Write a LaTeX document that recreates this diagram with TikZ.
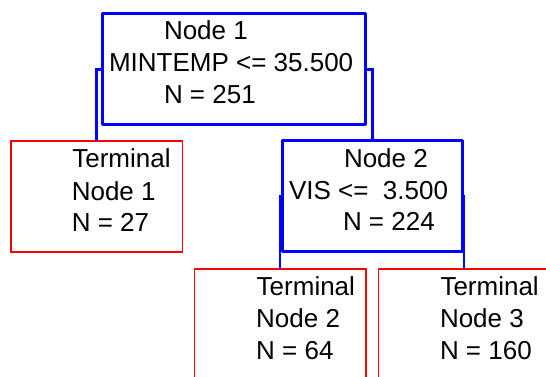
\documentclass[tikz,border=0pt]{standalone}
\usepackage{fontspec}
\setmainfont{Liberation Sans}
\definecolor{treeblue}{RGB}{0,0,255}
\definecolor{treered}{RGB}{255,0,0}
\begin{document}
\begin{tikzpicture}[x=1pt,y=-1pt,
  splitbox/.style={draw=treeblue, line width=3.3pt, line join=round, fill=white, outer sep=0pt, inner sep=0pt},
  termbox/.style={draw=treered, line width=1.6pt, fill=white, outer sep=0pt, inner sep=0pt},
  conn/.style={draw=treeblue, line width=2.8pt},
  lbl/.style={anchor=base west, inner sep=0pt, outer sep=0pt, font=\fontsize{26}{30}\selectfont}]
\useasboundingbox (0,0) rectangle (546,376);
\clip (0,0) rectangle (546,376);
% boxes
\node[splitbox, minimum width=263pt, minimum height=111.3pt] (n1) at (234.1,69.1) {};
\node[termbox, minimum width=171.7pt, minimum height=111pt] (t1) at (96.6,196.7) {};
\node[splitbox, minimum width=180pt, minimum height=110.5pt] (n2) at (372.3,196) {};
\node[termbox, minimum width=171.4pt, minimum height=111pt] (t2) at (280,324.2) {};
\node[termbox, minimum width=171.4pt, minimum height=111pt] (t3) at (464,324.2) {};
% connectors
\draw[conn] (n1.west) -| (t1.north);
\draw[conn] (n1.east) -| (n2.north);
\draw[conn] (n2.west) -| (t2.north);
\draw[conn] (n2.east) -| (t3.north);
% texts
\node[lbl] (n1a) at (164,39.3) {Node 1};
\node[lbl] (n1b) at (109,71.7) {MINTEMP <= 35.500};
\node[lbl] (n1c) at (164,103.3) {N = 251};
\node[lbl] (t1a) at (72.3,167.3) {Terminal};
\node[lbl] (t1b) at (71.8,200) {Node 1};
\node[lbl] (t1c) at (71.8,231.7) {N = 27};
\node[lbl] (n2a) at (344,167.3) {Node 2};
\node[lbl] (n2b) at (289,199) {VIS <=\ \ 3.500};
\node[lbl] (n2c) at (343,230.7) {N = 224};
\node[lbl] (t2a) at (256.7,295) {Terminal};
\node[lbl] (t2b) at (256.2,327.3) {Node 2};
\node[lbl] (t2c) at (256.2,359) {N = 64};
\node[lbl] (t3a) at (440.5,295) {Terminal};
\node[lbl] (t3b) at (440,327.3) {Node 3};
\node[lbl] (t3c) at (440,359) {N = 160};
\end{tikzpicture}
\end{document}
